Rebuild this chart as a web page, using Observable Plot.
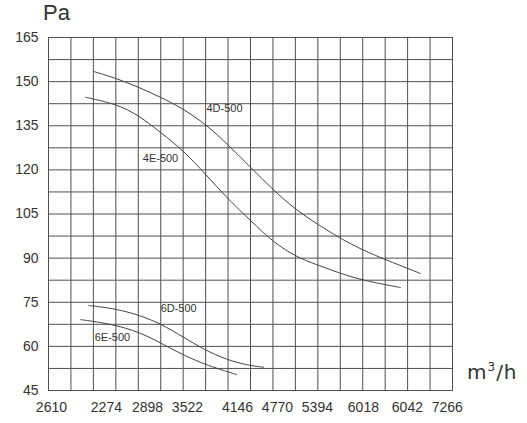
<!DOCTYPE html>
<html><head><meta charset="utf-8">
<script src="https://cdn.jsdelivr.net/npm/d3@7"></script>
<script src="https://cdn.jsdelivr.net/npm/@observablehq/plot@0.6"></script>
<style>
html,body{margin:0;padding:0;background:#fff;}
#wrap{position:relative;width:527px;height:423px;font-family:"Liberation Sans",Arial,sans-serif;color:#333;}
.unit{position:absolute;color:#333;white-space:nowrap;}
</style></head>
<body><div id="wrap"></div>
<script>
// x in grid-column units (0..18), y in Pa
const xTickPos   = [0.13, 2.58, 4.41, 6.19, 8.42, 10.2, 11.98, 14.03, 15.99, 17.77];
const xTickLabels = ["2610","2274","2898","3522","4146","4770","5394","6018","6042","7266"];
const yTicks = [45, 60, 75, 90, 105, 120, 135, 150, 165];

const s4D_x = [1.99, 1.99, 3.06, 4.02, 4.99, 5.88, 6.99, 8.03, 9.0, 10.04, 10.93, 11.8, 13.0, 14.03, 15.1, 16.57, 16.57];
const s4D_y = [153.5, 153.5, 151.0, 148.1, 144.7, 141.3, 135.7, 128.3, 120.9, 113.0, 107.0, 102.4, 96.7, 92.6, 89.2, 84.8, 84.8];
const s4E_x = [1.65, 1.65, 3.06, 4.02, 4.99, 6.03, 6.99, 8.03, 9.0, 10.04, 11.08, 11.8, 13.0, 14.03, 15.68, 15.68];
const s4E_y = [144.7, 144.7, 142.3, 138.5, 132.8, 126.4, 118.6, 109.8, 102.8, 95.2, 90.3, 88.2, 84.8, 82.4, 80.0, 80.0];
const s6D_x = [1.79, 1.79, 3.0, 4.1, 4.99, 6.03, 6.92, 7.96, 8.85, 9.59, 9.59];
const s6D_y = [73.9, 73.9, 72.8, 70.5, 67.7, 63.1, 58.9, 55.4, 53.6, 52.9, 52.9];
const s6E_x = [1.43, 1.43, 2.76, 4.1, 5.14, 6.03, 7.07, 8.4, 8.4];
const s6E_y = [69.1, 69.1, 67.7, 64.8, 60.5, 57.0, 53.5, 50.4, 50.4];

const labelNames = ["4D-500", "4E-500", "6D-500", "6E-500"];
const labelX = [7.84, 4.99, 5.8, 2.85];
const labelY = [140.9, 123.9, 73.0, 63.0];

const series = [
  {name:"4D-500", xs:s4D_x, ys:s4D_y},
  {name:"4E-500", xs:s4E_x, ys:s4E_y},
  {name:"6D-500", xs:s6D_x, ys:s6D_y},
  {name:"6E-500", xs:s6E_x, ys:s6E_y}
];
const lineData = series.flatMap(s => s.xs.map((x,i) => ({name:s.name, x, y:s.ys[i]})));
const labelData = labelNames.map((n,i) => ({name:n, x:labelX[i], y:labelY[i]}));

const gridColor = "#505050";
const chart = Plot.plot({
  width: 527, height: 423,
  marginLeft: 48, marginRight: 75, marginTop: 37, marginBottom: 33,
  style: {fontFamily: "'Liberation Sans', Arial, sans-serif", background: "#fff", color: "#333"},
  x: {domain: [0, 18], axis: null, label: null},
  y: {domain: [45, 165], axis: null, label: null},
  marks: [
    Plot.gridX(d3.range(0, 19), {stroke: gridColor, strokeOpacity: 1, strokeWidth: 1}),
    Plot.gridY(d3.range(45, 165.1, 7.5), {stroke: gridColor, strokeOpacity: 1, strokeWidth: 1}),
    Plot.frame({stroke: gridColor, strokeWidth: 1}),
    Plot.axisX(xTickPos, {tickSize: 0, tickPadding: 12, fontSize: 14, fill: "#333", label: null,
      tickFormat: (d) => xTickLabels[xTickPos.indexOf(d)]}),
    Plot.axisY(yTicks, {tickSize: 0, tickPadding: 10, fontSize: 14, fill: "#333", label: null}),
    Plot.line(lineData, {x: "x", y: "y", z: "name", curve: "basis", stroke: "#444", strokeWidth: 1}),
    Plot.text(labelData, {x: "x", y: "y", text: "name", fontSize: 11, fill: "#333"})
  ]
});
const wrap = document.getElementById("wrap");
wrap.appendChild(chart);
const pa = document.createElement("div");
pa.className = "unit"; pa.textContent = "Pa";
pa.style.left = "43px"; pa.style.top = "0px"; pa.style.fontSize = "22px";
wrap.appendChild(pa);
const mh = document.createElement("div");
mh.className = "unit"; mh.innerHTML = "m<sup style=\"font-size:12px\">3</sup>/h";
mh.style.fontFamily = "'DejaVu Sans', sans-serif"; mh.style.fontSize = "20px"; mh.style.letterSpacing = "1px";
mh.style.left = "467px"; mh.style.top = "360px";
wrap.appendChild(mh);
</script></body></html>
